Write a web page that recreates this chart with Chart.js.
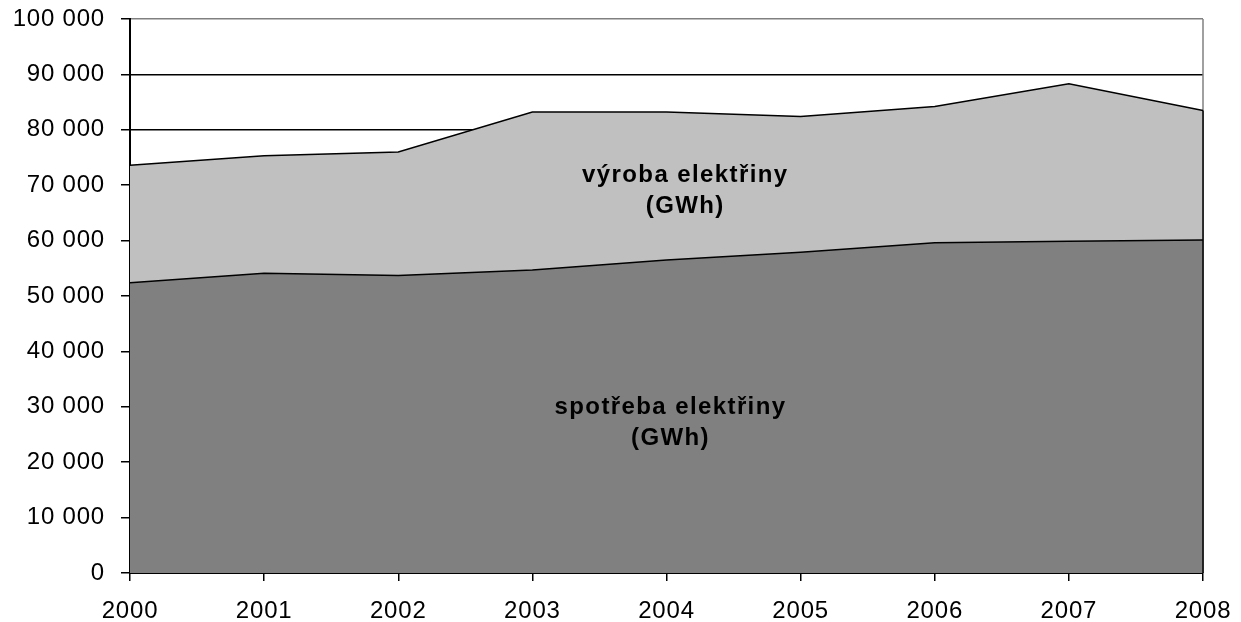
<!DOCTYPE html>
<html>
<head>
<meta charset="utf-8">
<script src="https://cdn.jsdelivr.net/npm/chart.js@4/dist/chart.umd.min.js"></script>
<style>
  html, body { margin: 0; padding: 0; background: #fff; }
  #wrap { width: 1241px; height: 622px; }
</style>
</head>
<body>
<div id="wrap"><canvas id="chart"></canvas></div>
<script>
// Years on the horizontal axis
const years = ['2000', '2001', '2002', '2003', '2004', '2005', '2006', '2007', '2008'];

// Electricity production and consumption (GWh)
const production = [73600, 75300, 76000, 83200, 83200, 82400, 84200, 88300, 83500];
const consumption = [52400, 54100, 53700, 54700, 56500, 57900, 59600, 59900, 60100];

// Y axis range
const yMin = 0;
const yMax = 100000;
const yStep = 10000;

// Area captions: text lines plus where they sit in data units
const captions = [
  { lines: ['výroba elektřiny', '(GWh)'], x: 4.14, y: 69000 },
  { lines: ['spotřeba elektřiny', '(GWh)'], x: 4.03, y: 27100 }
];

// format 100000 -> "100 000"
function formatTick(value) {
  return String(value).replace(/\B(?=(\d{3})+(?!\d))/g, ' ');
}

// slight letter spacing for the tick text
const spacingPlugin = {
  id: 'spacing',
  beforeInit(chart) {
    chart.ctx.letterSpacing = '0.8px';
  },
  beforeDraw(chart) {
    chart.ctx.letterSpacing = '0.8px';
  }
};

// gray right border of the plot, behind the areas
const frameRight = {
  id: 'frameRight',
  beforeDatasetsDraw(chart) {
    const { ctx, chartArea } = chart;
    ctx.save();
    ctx.strokeStyle = '#808080';
    ctx.lineWidth = 1.5;
    ctx.beginPath();
    ctx.moveTo(chartArea.right, chartArea.top);
    ctx.lineTo(chartArea.right, chartArea.bottom);
    ctx.stroke();
    ctx.restore();
  }
};

// black right edge of the filled area + captions
const areaExtras = {
  id: 'areaExtras',
  afterDatasetsDraw(chart) {
    const { ctx, chartArea, scales } = chart;
    const last = production.length - 1;
    const xr = scales.x.getPixelForValue(last);
    const yTop = scales.y.getPixelForValue(production[last]);
    ctx.save();
    ctx.strokeStyle = '#000';
    ctx.lineWidth = 1.5;
    ctx.beginPath();
    ctx.moveTo(xr, yTop);
    ctx.lineTo(xr, chartArea.bottom);
    ctx.stroke();

    ctx.fillStyle = '#000';
    ctx.font = 'bold 24px "Liberation Sans", Arial, sans-serif';
    ctx.letterSpacing = '1.4px';
    ctx.textAlign = 'center';
    ctx.textBaseline = 'middle';
    const lineHeight = 31;
    captions.forEach(c => {
      const cx = scales.x.getPixelForValue(c.x);
      const cy = scales.y.getPixelForValue(c.y);
      const startY = cy - (c.lines.length - 1) * lineHeight / 2;
      c.lines.forEach((line, i) => {
        ctx.fillText(line, cx, startY + i * lineHeight);
      });
    });
    ctx.restore();
  }
};

const tickFont = { family: '"Liberation Sans", Arial, sans-serif', size: 24 };

new Chart(document.getElementById('chart'), {
  type: 'line',
  data: {
    labels: years,
    datasets: [
      {
        label: 'spotřeba elektřiny (GWh)',
        data: consumption,
        backgroundColor: '#808080',
        borderColor: '#000',
        borderWidth: 1.5,
        fill: 'origin',
        pointRadius: 0,
        tension: 0
      },
      {
        label: 'výroba elektřiny (GWh)',
        data: production,
        backgroundColor: '#C0C0C0',
        borderColor: '#000',
        borderWidth: 1.5,
        fill: 'origin',
        pointRadius: 0,
        tension: 0
      }
    ]
  },
  options: {
    responsive: true,
    maintainAspectRatio: false,
    animation: false,
    layout: { padding: { top: 19, right: 38, left: 0, bottom: 0 } },
    plugins: {
      legend: { display: false },
      tooltip: { enabled: false }
    },
    scales: {
      x: {
        offset: false,
        grid: {
          drawOnChartArea: false,
          color: '#000',
          tickLength: 8,
          lineWidth: 1.5
        },
        border: { color: '#000', width: 2 },
        ticks: {
          color: '#000',
          font: tickFont,
          padding: 16,
          maxRotation: 0,
          autoSkip: false
        },
        afterFit(scale) {
          scale.height = 49;
          scale.paddingLeft = 0;
          scale.paddingRight = 0;
        }
      },
      y: {
        min: yMin,
        max: yMax,
        grid: {
          color: ctx => (ctx.tick && ctx.tick.value === yMax ? '#808080' : '#000'),
          tickColor: '#000',
          tickLength: 9,
          lineWidth: 1.5
        },
        border: { color: '#000', width: 2 },
        ticks: {
          stepSize: yStep,
          color: '#000',
          font: tickFont,
          padding: 16,
          callback: value => formatTick(value)
        },
        afterFit(scale) {
          scale.width = 130;
          scale.paddingTop = 0;
          scale.paddingBottom = 0;
        }
      }
    }
  },
  plugins: [spacingPlugin, frameRight, areaExtras]
});
</script>
</body>
</html>
